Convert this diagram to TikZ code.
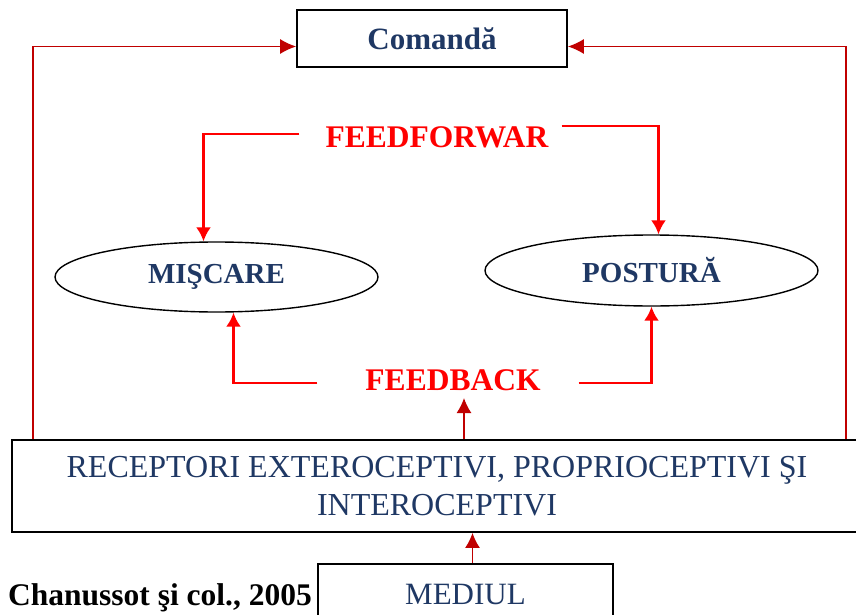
\documentclass[tikz,border=0pt]{standalone}
\usepackage{fontspec}
\setmainfont{Liberation Serif}
\usetikzlibrary{arrows.meta,calc,shapes.geometric}

\definecolor{navy}{RGB}{31,56,100}
\definecolor{darkred}{RGB}{192,0,0}

\tikzset{
  box/.style={draw=black, line width=1.8pt, inner sep=0pt, text=navy, align=center},
  oval/.style={ellipse, draw=black, line width=1.4pt, inner sep=0pt, text=navy,
    font=\fontsize{29}{34}\selectfont\bfseries},
  redlabel/.style={inner sep=0pt, text=red, font=\fontsize{31.5}{36}\selectfont\bfseries},
  loopline/.style={draw=darkred, line width=1.3pt, -{Latex[length=16pt,width=15pt]}},
  redarrow/.style={draw=red, line width=2.6pt, -{Latex[length=14pt,width=15pt]}},
  inarrow/.style={draw=darkred, line width=1.5pt, -{Latex[length=15pt,width=15pt]}},
}

\begin{document}
\begin{tikzpicture}[x=1pt,y=-1pt]
\useasboundingbox (0,0) rectangle (856,615);

% boxes
\node[box, minimum width=270pt, minimum height=57pt,
  font=\fontsize{31}{36}\selectfont\bfseries] (cmd) at (432,38.5) {Comandă};
\node[box, minimum width=850pt, minimum height=92pt,
  font=\fontsize{32}{38}\selectfont] (recep) at (437,486)
  {RECEPTORI EXTEROCEPTIVI, PROPRIOCEPTIVI ŞI\\INTEROCEPTIVI};
\node[box, minimum width=295pt, minimum height=61pt,
  font=\fontsize{31}{36}\selectfont] (med) at (465.5,594.5) {MEDIUL};

% ellipses
\node[oval, minimum width=323pt, minimum height=70pt] (misc) at (216.5,277) {MIŞCARE};
\node[oval, minimum width=333pt, minimum height=71pt] (post) at (651.5,270.5) {POSTURĂ};

% labels
\node[redlabel] (ff) at (437,137) {FEEDFORWAR};
\node[redlabel] (fb) at (453,380.5) {FEEDBACK};
\node[anchor=base east, inner sep=0pt, font=\fontsize{31.5}{36}\selectfont\bfseries]
  (src) at (312,605) {Chanussot şi col., 2005};

% outer loop
\draw[loopline] ($(recep.north west)+(22,0)$) |- ($(cmd.west)+(0,8)$);
\draw[loopline] ($(recep.north east)+(-17,0)$) |- ($(cmd.east)+(0,8)$);

% feedforward
\draw[redarrow] ($(ff.west)+(-26,-3)$) -| ($(misc.north)+(-13,0)$);
\draw[redarrow] ($(ff.east)+(13,-11)$) -| ($(post.north)+(7,0)$);

% feedback
\draw[redarrow] ($(fb.west)+(-48,2.5)$) -| ($(misc.south)+(17,0)$);
\draw[redarrow] ($(fb.east)+(38,2.5)$) -| (post.south);

% inputs
\coordinate (fbin) at (464,398);
\draw[inarrow] (recep.north -| fbin) -- (fbin);
\coordinate (medout) at ($(med.north)+(7,0)$);
\draw[inarrow] (medout) -- (medout |- recep.south);
\end{tikzpicture}
\end{document}
